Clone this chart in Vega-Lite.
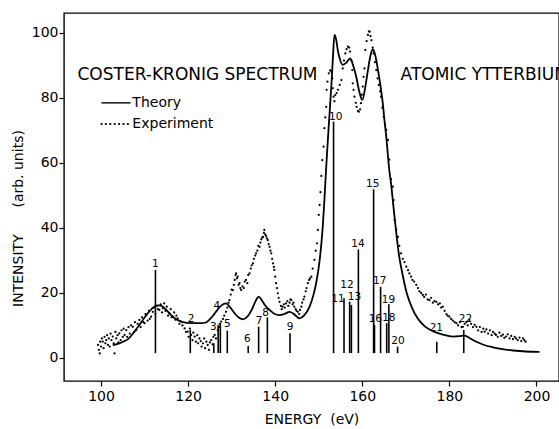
{
  "$schema": "https://vega.github.io/schema/vega-lite/v6.json",
  "width": 495,
  "height": 368,
  "autosize": {"type": "none"},
  "padding": {"left": 64, "top": 13, "right": 0, "bottom": 48},
  "background": "white",
  "config": {
    "font": "DejaVu Sans",
    "view": {"stroke": "black", "strokeWidth": 1.4},
    "axis": {
      "domain": false, "grid": false, "tickColor": "black", "tickSize": 5, "tickWidth": 1.2,
      "labelFont": "DejaVu Sans", "labelFontSize": 14, "labelColor": "black",
      "titleFont": "DejaVu Sans", "titleFontSize": 14, "titleFontWeight": "normal", "titleColor": "black"
    }
  },
  "datasets": {
    "theory": [
      {"E":102.7,"I":4.0},{"E":104.0,"I":4.4},{"E":105.0,"I":5.0},{"E":106.2,"I":5.8},{"E":107.4,"I":7.6},{"E":108.5,"I":9.6},{"E":109.6,"I":11.7},{"E":110.7,"I":13.7},{"E":111.7,"I":15.2},{"E":112.7,"I":16.1},{"E":113.4,"I":16.2},{"E":114.2,"I":15.8},{"E":115.2,"I":14.5},{"E":116.1,"I":13.2},{"E":117.2,"I":12.0},{"E":118.4,"I":11.2},{"E":119.8,"I":10.8},{"E":121.5,"I":10.7},{"E":123.0,"I":10.7},{"E":124.2,"I":11.0},{"E":125.2,"I":12.2},{"E":126.5,"I":14.4},{"E":127.6,"I":16.1},{"E":128.7,"I":16.8},{"E":129.7,"I":15.5},{"E":130.7,"I":13.7},{"E":131.7,"I":12.4},{"E":132.6,"I":11.9},{"E":133.6,"I":12.7},{"E":134.6,"I":14.8},{"E":135.5,"I":17.5},{"E":136.2,"I":18.9},{"E":136.9,"I":17.8},{"E":137.8,"I":16.0},{"E":138.7,"I":14.8},{"E":139.8,"I":13.6},{"E":141.0,"I":13.2},{"E":142.2,"I":13.6},{"E":143.3,"I":14.2},{"E":144.3,"I":13.5},{"E":145.6,"I":12.2},{"E":146.6,"I":13.0},{"E":147.9,"I":15.8},{"E":148.8,"I":19.5},{"E":149.4,"I":23.0},{"E":150.2,"I":30.0},{"E":150.9,"I":40.0},{"E":151.3,"I":48.6},{"E":151.6,"I":56.0},{"E":151.9,"I":63.0},{"E":152.4,"I":73.5},{"E":152.9,"I":84.0},{"E":153.3,"I":93.5},{"E":153.6,"I":99.4},{"E":154.0,"I":98.0},{"E":154.4,"I":94.5},{"E":154.8,"I":92.2},{"E":155.5,"I":90.2},{"E":156.3,"I":90.8},{"E":157.2,"I":92.2},{"E":157.9,"I":90.0},{"E":158.6,"I":86.6},{"E":159.3,"I":82.0},{"E":160.0,"I":79.4},{"E":160.7,"I":83.5},{"E":161.3,"I":88.6},{"E":161.9,"I":93.2},{"E":162.4,"I":95.0},{"E":162.9,"I":93.5},{"E":163.6,"I":88.6},{"E":164.2,"I":83.5},{"E":164.7,"I":78.4},{"E":165.1,"I":73.0},{"E":165.5,"I":68.1},{"E":166.2,"I":57.8},{"E":166.6,"I":53.7},{"E":167.2,"I":46.0},{"E":167.8,"I":38.5},{"E":168.5,"I":31.0},{"E":169.2,"I":26.0},{"E":170.2,"I":20.0},{"E":171.4,"I":15.5},{"E":172.7,"I":12.2},{"E":174.3,"I":9.8},{"E":176.3,"I":8.2},{"E":178.5,"I":7.2},{"E":180.8,"I":6.6},{"E":182.3,"I":6.7},{"E":183.5,"I":6.9},{"E":184.8,"I":6.0},{"E":186.2,"I":5.0},{"E":188.0,"I":4.0},{"E":190.0,"I":3.3},{"E":192.2,"I":2.7},{"E":194.6,"I":2.3},{"E":197.5,"I":2.0},{"E":200.7,"I":1.9}
    ],
    "experiment": [
      {"E":99.3,"I":4.0},{"E":99.5,"I":2.5},{"E":99.7,"I":1.4},{"E":99.8,"I":5.0},{"E":100.0,"I":3.5},{"E":100.2,"I":6.0},{"E":100.4,"I":5.0},{"E":100.6,"I":3.0},{"E":100.8,"I":6.5},{"E":101.0,"I":4.5},{"E":101.2,"I":5.5},{"E":101.4,"I":7.0},{"E":101.6,"I":4.0},{"E":101.8,"I":6.0},{"E":102.0,"I":3.5},{"E":102.2,"I":7.5},{"E":102.4,"I":5.5},{"E":102.7,"I":6.6},{"E":102.9,"I":4.5},{"E":103.1,"I":1.4},{"E":103.3,"I":8.0},{"E":103.5,"I":6.0},{"E":103.8,"I":7.0},{"E":104.0,"I":4.8},{"E":104.2,"I":7.6},{"E":104.5,"I":5.5},{"E":104.7,"I":8.5},{"E":105.0,"I":6.5},{"E":105.2,"I":9.0},{"E":105.4,"I":7.1},{"E":105.8,"I":8.6},{"E":106.0,"I":6.5},{"E":106.3,"I":9.5},{"E":106.6,"I":7.5},{"E":106.9,"I":10.0},{"E":107.3,"I":9.6},{"E":107.6,"I":8.0},{"E":107.8,"I":11.0},{"E":108.1,"I":8.6},{"E":108.4,"I":10.5},{"E":108.8,"I":11.7},{"E":109.1,"I":9.5},{"E":109.4,"I":12.5},{"E":109.7,"I":11.0},{"E":110.0,"I":10.7},{"E":110.2,"I":13.5},{"E":110.4,"I":13.2},{"E":110.7,"I":11.5},{"E":111.0,"I":14.5},{"E":111.2,"I":12.0},{"E":111.5,"I":12.7},{"E":111.9,"I":14.2},{"E":112.2,"I":15.5},{"E":112.5,"I":13.5},{"E":112.8,"I":16.0},{"E":113.1,"I":15.0},{"E":113.4,"I":14.8},{"E":113.7,"I":16.5},{"E":114.0,"I":14.0},{"E":114.2,"I":15.3},{"E":114.5,"I":16.8},{"E":114.8,"I":14.5},{"E":115.1,"I":15.8},{"E":115.4,"I":13.0},{"E":115.7,"I":13.7},{"E":116.0,"I":15.0},{"E":116.2,"I":12.5},{"E":116.5,"I":12.7},{"E":116.8,"I":14.0},{"E":117.1,"I":11.8},{"E":117.3,"I":13.0},{"E":117.6,"I":12.2},{"E":118.0,"I":10.5},{"E":118.4,"I":11.2},{"E":118.7,"I":10.0},
      {"E":119.2,"I":9.1},{"E":119.5,"I":8.0},{"E":119.9,"I":8.1},{"E":120.1,"I":6.5},{"E":120.4,"I":9.0},{"E":120.7,"I":7.1},{"E":121.0,"I":5.5},{"E":121.2,"I":7.8},{"E":121.5,"I":6.6},{"E":121.8,"I":5.0},{"E":122.1,"I":7.0},{"E":122.3,"I":4.5},{"E":122.6,"I":6.0},{"E":122.9,"I":5.2},{"E":123.1,"I":3.5},{"E":123.4,"I":4.5},{"E":123.7,"I":6.0},{"E":123.9,"I":3.0},{"E":124.2,"I":5.0},{"E":124.5,"I":4.0},{"E":124.8,"I":2.5},{"E":125.0,"I":4.8},{"E":125.3,"I":5.5},{"E":125.6,"I":4.2},{"E":125.8,"I":6.5},{"E":126.1,"I":7.1},{"E":126.4,"I":6.0},{"E":126.8,"I":8.6},{"E":127.1,"I":9.5},{"E":127.3,"I":10.5},{"E":127.6,"I":11.2},{"E":128.0,"I":12.0},{"E":128.3,"I":13.0},{"E":128.7,"I":14.2},{"E":129.0,"I":15.5},{"E":129.3,"I":17.0},{"E":129.5,"I":17.8},{"E":129.8,"I":19.5},{"E":130.0,"I":21.0},{"E":130.3,"I":20.9},{"E":130.5,"I":22.5},{"E":130.7,"I":24.0},{"E":130.9,"I":25.5},{"E":131.0,"I":26.0},{"E":131.2,"I":24.5},{"E":131.4,"I":25.0},{"E":131.6,"I":22.5},{"E":131.8,"I":23.0},{"E":132.0,"I":21.5},{"E":132.2,"I":20.9},{"E":132.5,"I":22.0},{"E":132.8,"I":21.5},{"E":133.0,"I":23.5},{"E":133.3,"I":24.0},{"E":133.6,"I":23.0},{"E":133.8,"I":25.5},{"E":134.1,"I":26.0},{"E":134.4,"I":27.5},{"E":134.6,"I":28.5},{"E":134.9,"I":29.1},{"E":135.1,"I":30.5},{"E":135.4,"I":31.5},{"E":135.6,"I":32.2},{"E":135.9,"I":33.0},{"E":136.1,"I":34.5},{"E":136.4,"I":34.2},{"E":136.6,"I":35.5},{"E":136.8,"I":36.5},{"E":137.0,"I":37.0},{"E":137.2,"I":37.3},{"E":137.4,"I":38.5},{"E":137.5,"I":39.4},{"E":137.7,"I":38.0},{"E":137.9,"I":37.5},{"E":138.1,"I":36.8},{"E":138.3,"I":36.3},{"E":138.5,"I":35.0},{"E":138.7,"I":34.2},{"E":138.9,"I":33.0},{"E":139.1,"I":32.2},{"E":139.3,"I":30.5},{"E":139.5,"I":29.1},{"E":139.7,"I":28.0},{"E":139.8,"I":27.1},{"E":140.0,"I":25.0},{"E":140.2,"I":23.0},{"E":140.4,"I":21.5},{"E":140.6,"I":19.9},{"E":140.8,"I":18.5},{"E":141.0,"I":17.3},{"E":141.3,"I":16.0},{"E":141.5,"I":15.0},{"E":141.7,"I":15.8},{"E":142.0,"I":16.5},{"E":142.2,"I":15.5},{"E":142.5,"I":16.8},{"E":142.8,"I":17.5},{"E":143.0,"I":16.0},{"E":143.3,"I":17.0},{"E":143.5,"I":18.0},{"E":143.7,"I":17.8},{"E":144.0,"I":16.5},{"E":144.2,"I":17.0},{"E":144.4,"I":15.8},{"E":144.7,"I":15.0},{"E":144.9,"I":14.5},{"E":145.2,"I":14.2},{"E":145.5,"I":13.5},{"E":145.7,"I":14.8},{"E":146.0,"I":15.8},{"E":146.2,"I":17.0},{"E":146.5,"I":18.0},{"E":146.7,"I":18.9},{"E":147.0,"I":20.5},{"E":147.2,"I":21.5},{"E":147.5,"I":23.0},{"E":147.8,"I":24.0},{"E":148.0,"I":24.5},{"E":148.3,"I":25.0},{"E":148.6,"I":27.5},{"E":149.0,"I":30.2},{"E":149.3,"I":33.0},{"E":149.6,"I":35.3},{"E":149.8,"I":39.4},{"E":150.0,"I":44.0},{"E":150.2,"I":47.1},{"E":150.4,"I":51.0},{"E":150.6,"I":56.0},{"E":150.8,"I":60.9},{"E":151.1,"I":65.0},{"E":151.3,"I":70.7},{"E":151.5,"I":74.0},{"E":151.7,"I":77.3},{"E":151.8,"I":82.5},{"E":152.0,"I":85.0},{"E":152.3,"I":87.6},{"E":152.6,"I":88.5},{"E":152.9,"I":88.1},{"E":153.1,"I":86.0},{"E":153.2,"I":83.0},{"E":153.4,"I":80.4},{"E":153.6,"I":79.0},{"E":153.8,"I":80.9},{"E":154.1,"I":81.5},{"E":154.4,"I":82.5},{"E":154.8,"I":84.0},{"E":155.2,"I":85.5},{"E":155.5,"I":89.1},{"E":155.8,"I":91.5},{"E":156.1,"I":93.7},{"E":156.4,"I":95.0},{"E":156.7,"I":95.8},{"E":157.0,"I":95.5},{"E":157.2,"I":94.3},{"E":157.5,"I":91.5},{"E":157.7,"I":88.6},{"E":157.8,"I":84.5},{"E":158.0,"I":82.5},{"E":158.2,"I":80.4},{"E":158.5,"I":78.5},{"E":158.7,"I":77.3},{"E":159.0,"I":76.0},{"E":159.2,"I":75.8},{"E":159.5,"I":76.5},{"E":159.7,"I":78.4},{"E":159.9,"I":81.0},{"E":160.1,"I":83.5},{"E":160.3,"I":86.5},{"E":160.5,"I":89.1},{"E":160.7,"I":94.8},{"E":161.0,"I":97.5},{"E":161.3,"I":99.4},{"E":161.5,"I":100.5},{"E":161.7,"I":100.4},{"E":161.9,"I":99.0},{"E":162.1,"I":97.8},{"E":162.4,"I":95.5},{"E":162.6,"I":93.7},{"E":162.9,"I":91.0},{"E":163.2,"I":88.6},{"E":163.5,"I":86.0},{"E":163.8,"I":84.0},{"E":164.1,"I":82.0},{"E":164.3,"I":80.4},{"E":164.6,"I":77.0},{"E":164.9,"I":74.2},{"E":165.2,"I":72.0},{"E":165.5,"I":70.2},{"E":165.9,"I":67.1},{"E":166.2,"I":61.0},{"E":166.6,"I":55.0},{"E":167.0,"I":52.7},{"E":167.2,"I":48.6},{"E":167.4,"I":42.5},{"E":167.8,"I":39.5},{"E":168.2,"I":37.3},{"E":168.5,"I":34.5},{"E":168.9,"I":32.2},{"E":169.3,"I":30.5},{"E":169.7,"I":29.5},{"E":170.1,"I":28.1},{"E":170.5,"I":27.0},{"E":170.8,"I":26.0},{"E":171.2,"I":25.0},{"E":171.5,"I":24.0},{"E":171.9,"I":23.5},{"E":172.4,"I":22.5},{"E":172.8,"I":21.5},{"E":173.1,"I":20.5},{"E":173.5,"I":20.0},{"E":173.9,"I":19.4},{"E":174.2,"I":18.8},{"E":174.6,"I":19.5},{"E":175.0,"I":18.0},{"E":175.4,"I":17.8},{"E":175.8,"I":18.5},{"E":176.2,"I":17.0},{"E":176.6,"I":17.5},{"E":177.0,"I":17.3},{"E":177.4,"I":16.5},{"E":177.8,"I":16.8},{"E":178.1,"I":15.5},{"E":178.5,"I":15.8},{"E":178.9,"I":14.5},{"E":179.3,"I":13.5},{"E":179.6,"I":13.0},{"E":180.0,"I":12.7},{"E":180.4,"I":12.0},{"E":180.8,"I":11.5},{"E":181.2,"I":11.0},{"E":181.6,"I":10.7},{"E":182.0,"I":10.0},{"E":182.4,"I":11.0},{"E":182.8,"I":9.5},{"E":183.1,"I":9.6},{"E":183.5,"I":10.5},{"E":183.9,"I":11.0},{"E":184.2,"I":10.0},{"E":184.6,"I":11.7},{"E":185.0,"I":10.5},{"E":185.4,"I":9.5},{"E":185.8,"I":10.2},{"E":186.2,"I":9.6},{"E":186.6,"I":8.5},{"E":187.0,"I":9.5},{"E":187.4,"I":8.0},{"E":187.8,"I":9.0},{"E":188.1,"I":8.1},{"E":188.5,"I":8.8},{"E":188.9,"I":7.5},{"E":189.3,"I":8.5},{"E":189.7,"I":7.0},{"E":190.0,"I":8.0},{"E":190.4,"I":7.5},{"E":190.7,"I":7.1},{"E":191.1,"I":6.5},{"E":191.5,"I":7.8},{"E":191.9,"I":6.8},{"E":192.3,"I":7.2},{"E":192.6,"I":6.2},{"E":193.0,"I":6.6},{"E":193.4,"I":7.3},{"E":193.8,"I":6.0},{"E":194.2,"I":6.8},{"E":194.6,"I":5.8},{"E":195.0,"I":6.5},{"E":195.3,"I":6.0},{"E":195.7,"I":5.5},{"E":196.1,"I":6.3},{"E":196.5,"I":5.2},{"E":196.9,"I":6.0},{"E":197.2,"I":5.5},{"E":197.5,"I":5.0}
    ],
    "sticks": [
      {"E":112.5,"I":27.1},{"E":120.5,"I":8.6},{"E":125.9,"I":4.5},{"E":126.9,"I":10.2},{"E":127.4,"I":10.7},{"E":129.0,"I":8.4},{"E":133.8,"I":3.7},{"E":136.2,"I":9.6},{"E":138.2,"I":12.5},{"E":143.4,"I":7.6},{"E":153.4,"I":72.7},{"E":155.8,"I":18.4},{"E":157.1,"I":17.3},{"E":157.5,"I":16.3},{"E":159.1,"I":33.4},{"E":162.6,"I":51.9},{"E":162.8,"I":10.2},{"E":164.2,"I":21.9},{"E":165.6,"I":10.7},{"E":166.1,"I":16.5},{"E":168.1,"I":3.5},{"E":177.1,"I":5.0},{"E":183.3,"I":8.6}
    ],
    "sticklabels": [
      {"E":112.5,"I":29.0,"n":"1"},{"E":120.7,"I":12.0,"n":"2"},{"E":125.8,"I":9.4,"n":"3"},{"E":126.6,"I":16.1,"n":"4"},{"E":129.0,"I":10.4,"n":"5"},{"E":133.6,"I":5.8,"n":"6"},{"E":136.3,"I":11.5,"n":"7"},{"E":137.8,"I":13.9,"n":"8"},{"E":143.4,"I":9.4,"n":"9"},{"E":153.9,"I":74.3,"n":"10"},{"E":154.4,"I":18.0,"n":"11"},{"E":156.5,"I":22.4,"n":"12"},{"E":158.2,"I":18.8,"n":"13"},{"E":159.0,"I":35.0,"n":"14"},{"E":162.4,"I":53.4,"n":"15"},{"E":163.0,"I":12.0,"n":"16"},{"E":164.0,"I":23.7,"n":"17"},{"E":166.1,"I":12.2,"n":"18"},{"E":166.0,"I":17.8,"n":"19"},{"E":168.2,"I":5.2,"n":"20"},{"E":177.0,"I":9.1,"n":"21"},{"E":183.7,"I":11.9,"n":"22"}
    ],
    "notes": [
      {"E":94.6,"I":87.1,"t":"COSTER-KRONIG SPECTRUM"},
      {"E":168.8,"I":87.1,"t":"ATOMIC YTTERBIUM"},
      {"E":107.2,"I":78.5,"t":"Theory"},
      {"E":107.2,"I":72.0,"t":"Experiment"}
    ],
    "legendkeys": [
      {"E":100.1,"E2":106.8,"I":78.5,"k":"Theory"},
      {"E":100.1,"E2":106.8,"I":72.0,"k":"Experiment"}
    ]
  },
  "encoding": {
    "x": {
      "field": "E", "type": "quantitative",
      "scale": {"domain": [91.5, 205.17], "nice": false, "zero": false},
      "axis": {"values": [100, 120, 140, 160, 180, 200], "title": "ENERGY\u00a0\u00a0(eV)", "labelPadding": 3, "titlePadding": 9}
    },
    "y": {
      "field": "I", "type": "quantitative",
      "scale": {"domain": [-7.08, 106.15], "nice": false, "zero": false},
      "axis": {"values": [0, 20, 40, 60, 80, 100], "title": "INTENSITY\u00a0\u00a0\u00a0\u00a0\u00a0\u00a0(arb. units)", "titleY": 205, "labelPadding": 1, "titlePadding": 6}
    }
  },
  "layer": [
    {
      "data": {"name": "sticks"},
      "mark": {"type": "rule", "color": "black", "strokeWidth": 1.6},
      "encoding": {"y2": {"datum": 1.5}}
    },
    {
      "data": {"name": "theory"},
      "mark": {"type": "line", "color": "black", "strokeWidth": 1.8, "interpolate": "monotone"},
      "encoding": {}
    },
    {
      "data": {"name": "experiment"},
      "mark": {"type": "point", "filled": true, "color": "black", "size": 5, "opacity": 1},
      "encoding": {}
    },
    {
      "data": {"name": "sticklabels"},
      "mark": {"type": "text", "fontSize": 10.5, "color": "black", "align": "center", "baseline": "middle", "font": "DejaVu Sans"},
      "encoding": {"text": {"field": "n"}}
    },
    {
      "data": {"name": "notes"},
      "mark": {"type": "text", "color": "black", "align": "left", "baseline": "middle", "font": "DejaVu Sans"},
      "encoding": {
        "text": {"field": "t"},
        "size": {"condition": {"test": "datum.I > 80", "value": 17}, "value": 14}
      }
    },
    {
      "data": {"name": "legendkeys"},
      "transform": [{"filter": "datum.k === 'Theory'"}],
      "mark": {"type": "rule", "color": "black", "strokeWidth": 1.4},
      "encoding": {"x2": {"field": "E2"}}
    },
    {
      "data": {"name": "legendkeys"},
      "transform": [{"filter": "datum.k === 'Experiment'"}],
      "mark": {"type": "rule", "color": "black", "strokeWidth": 2.2, "strokeCap": "round", "strokeDash": [0.1, 4.3]},
      "encoding": {"x2": {"field": "E2"}}
    }
  ]
}
